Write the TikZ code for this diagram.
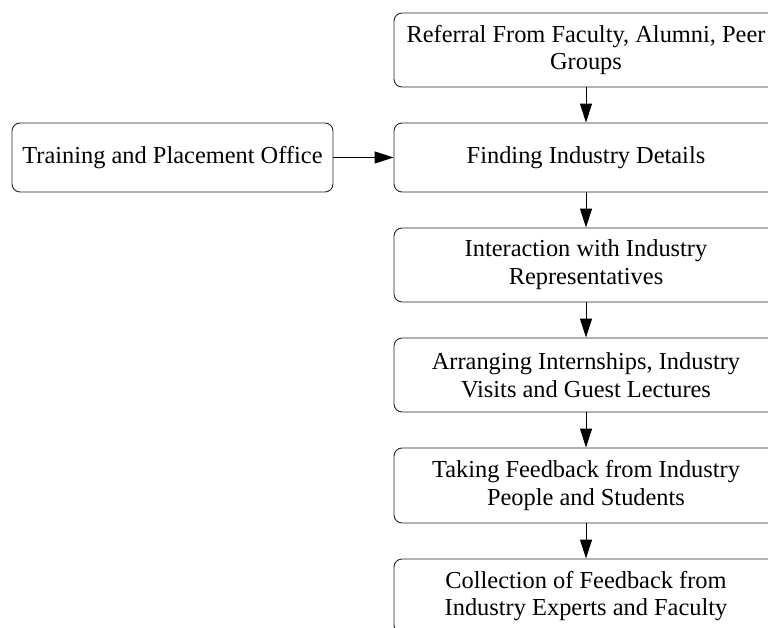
\documentclass[tikz,border=0pt]{standalone}
\usepackage{fontspec}
\setmainfont{Liberation Serif}
\usetikzlibrary{arrows.meta}
\begin{document}
\begin{tikzpicture}[x=1pt,y=-1pt,
  stagebox/.style={draw=black!85, line width=0.9pt, rounded corners=8pt,
    align=center, inner sep=0pt, font=\fontsize{24.4}{27.8}\selectfont},
  flow/.style={draw=black, line width=1pt, -{Triangle[length=19pt,width=12pt]}}]
  \useasboundingbox (0,0) rectangle (768,628);
  \clip (0,0) rectangle (768,628);
  \fill[white] (0,0) rectangle (768,628);

  % main column of stages
  \node[stagebox, minimum width=384pt, minimum height=74pt] (ref) at (586,50)
    {Referral From Faculty, Alumni, Peer\\Groups};
  \node[stagebox, minimum width=384pt, minimum height=69pt] (find) at (586,157.5)
    {Finding Industry Details};
  \node[stagebox, minimum width=384pt, minimum height=74pt] (inter) at (586,265)
    {Interaction with Industry\\Representatives};
  \node[stagebox, minimum width=384pt, minimum height=74pt] (arr) at (586,375)
    {Arranging Internships, Industry\\Visits and Guest Lectures};
  \node[stagebox, minimum width=384pt, minimum height=75pt] (take) at (586,485.5)
    {Taking Feedback from Industry\\People and Students};
  \node[stagebox, minimum width=384pt, minimum height=74pt] (coll) at (586,596)
    {Collection of Feedback from\\Industry Experts and Faculty};

  % side source
  \node[stagebox, minimum width=321pt, minimum height=69pt] (tpo) at (172.5,157.5)
    {Training and Placement Office};

  % connectors
  \draw[flow] (ref) -- (find);
  \draw[flow] (find) -- (inter);
  \draw[flow] (inter) -- (arr);
  \draw[flow] (arr) -- (take);
  \draw[flow] (take) -- (coll);
  \draw[flow] (tpo) -- (find);
\end{tikzpicture}
\end{document}
